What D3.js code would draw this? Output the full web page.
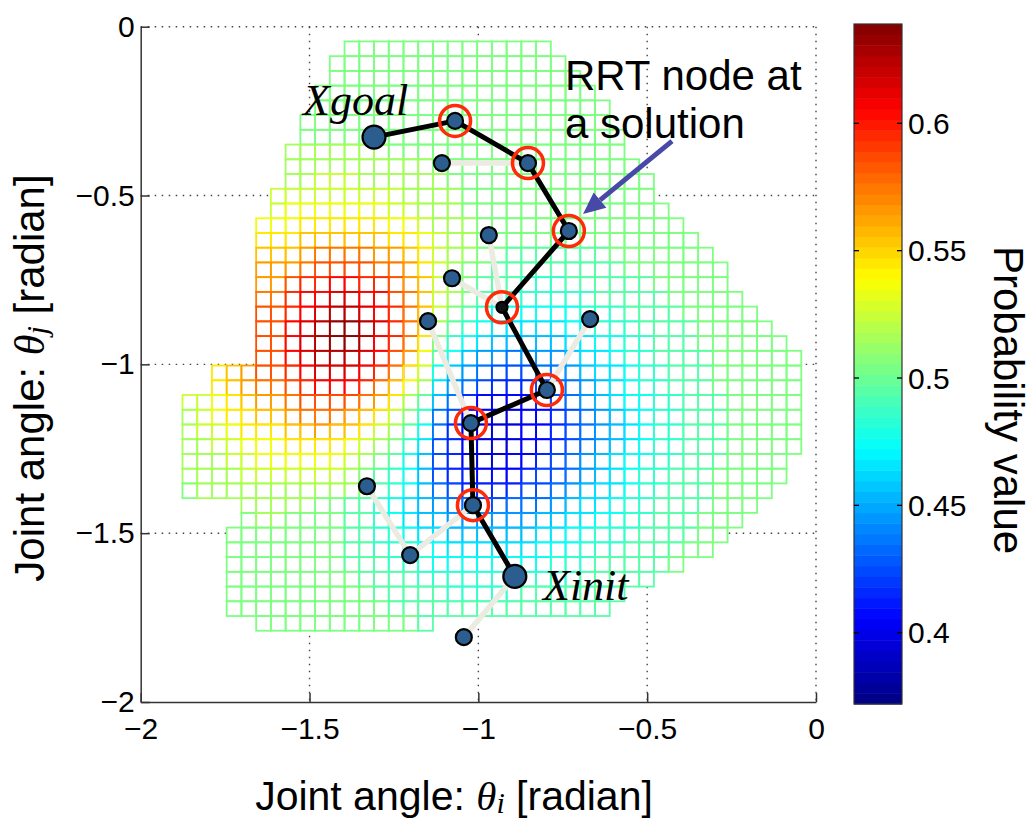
<!DOCTYPE html>
<html>
<head>
<meta charset="utf-8">
<script src="https://cdnjs.cloudflare.com/ajax/libs/d3/7.8.5/d3.min.js"></script>
<style>
body { margin: 0; background: #fff; }
svg { display: block; font-family: "Liberation Sans", Arial, sans-serif; }
.grid line { stroke: #444; stroke-width: 1.4; stroke-dasharray: 1.5,5.5; }
.axis path, .axis line { stroke: #333; stroke-width: 1.5; }
.axis text { font-size: 30px; fill: #000; font-family: "Liberation Sans", Arial, sans-serif; }
</style>
</head>
<body>
<div id="chart"></div>
<script>
// probability mesh, 2.5 deg cells (theta_i across, theta_j down)
var cellStep = 2.5;
var thetaIStart = -107.5;
var thetaJStart = -2.5;
var levelChars = "0123456789abcdefghijklmnopq";
var levelBase = 0.375, levelStep = 0.01;

// first / last column of each row that has a cell
var rowSpans = [
    [11,24],[10,25],[10,26],[9,27],[9,28],[8,28],[8,29],[7,29],[7,30],[7,31],
    [6,31],[6,32],[5,33],[5,34],[5,35],[5,36],[5,36],[5,37],[5,38],[5,39],
    [5,40],[5,41],[2,41],[2,41],[0,41],[0,41],[0,41],[0,41],[0,40],[0,40],
    [0,39],[4,38],[4,37],[3,36],[3,35],[3,33],[3,31],[3,29],[3,28],[5,16]
];

// cell levels, one char per column (rest of the row is 'd')
var probRows = [
    "d",
    "d",
    "d",
    "d",
    "d",
    "d",
    "d",
    "dddddddeeeeeee",
    "ddddeeeeeeeeeeeee",
    "dddeeeeeefffeeeeee",
    "deeeeefffffffffeeee",
    "eeeefffgggggggffeee",
    "eeeffggghhhhhhggfeee",
    "eeffghhhiiiiiihhgfee",
    "effghiiijkkkkjjihfeeddccccccc",
    "efghijjjkllllkkjhfeddccccccccc",
    "ffghijjlmmnnmmljifedcccbbbcccccc",
    "fghijkkmnnoonnlkifedcbbbbbbbccccc",
    "fghikllmnopponmkifdcbaaaaaabbbcccc",
    "fghjkllnopqqpomkiecba99999aabbbcccc",
    "fghjkllnopqqpnmkhdba98888899aabbccc",
    "fghikllnoppponljgca8776777899abbcccc",
    "fghijllmnooonmkhfa876555667899abbccc",
    "fghijkklmnnnmkige9765444566789abbccc",
    "ffghijjkllllkjhec8643333456789aabbccc",
    "efghhiijkkkjihfdb65332233456789abbccc",
    "effghhhiijiihfeca64322233456789abbccc",
    "eeffggghhhhgfedb954322233456789abbccc",
    "eeeffggggggfedca85432233456789aabbccc",
    "eeeefffffffedcba85443334556789abbccc",
    "deeeeeeeeeeedcba86544445567899abbccc",
    "dddeeeeeeddccba98766556667899abbcccc",
    "dddddeeddddccba9887777778899aabbccc",
    "dddddddddddccbba9988888899aabbbcccc",
    "dddddddddddccbbbaa999999aaabbbcccc",
    "dddddddddddcccbbbaaaaaaaabbbccccc",
    "ddddddddddddccccbbbbbbbbbbbccccc",
    "dddddddddddddcccccbbbbbccccccc",
    "ddddddddddddddccccccccccccccc",
    "ddddddddddddddddcccccccccc"
];

var axisTicks = [-2, -1.5, -1, -0.5, 0];
var gridTicks = [-1.5, -1, -0.5, 0];
var colorDomain = [0.372, 0.639];
var colorTicks = [0.4, 0.45, 0.5, 0.55, 0.6];
var jetStops = [0, 0.125, 0.375, 0.625, 0.875, 1];
var jetColors = ["#000080", "#0000ff", "#00ffff", "#ffff00", "#ff0000", "#800000"];

// RRT: solution path from Xgoal to Xinit, [theta_i, theta_j] in radian
var pathNodes = [
    [-1.309, -0.327], [-1.069, -0.279], [-0.853, -0.404], [-0.732, -0.605],
    [-0.930, -0.831], [-0.797, -1.076], [-1.022, -1.174], [-1.016, -1.417],
    [-0.892, -1.628]
];
var sideNodes = [
    [-1.108, -0.404], [-0.969, -0.617], [-1.078, -0.745], [-1.149, -0.872],
    [-0.669, -0.866], [-1.330, -1.361], [-1.202, -1.565], [-1.043, -1.808]
];
// tree edges not on the solution (side node -> neighbour)
var treeEdges = [
    [[-1.108, -0.404], [-0.853, -0.404]],
    [[-0.969, -0.617], [-0.930, -0.831]],
    [[-1.078, -0.745], [-0.930, -0.831]],
    [[-1.149, -0.872], [-1.022, -1.174]],
    [[-0.669, -0.866], [-0.797, -1.076]],
    [[-1.330, -1.361], [-1.202, -1.565]],
    [[-1.202, -1.565], [-1.016, -1.417]],
    [[-1.043, -1.808], [-0.892, -1.628]]
];

var svg = d3.select("#chart").append("svg")
    .attr("width", 1035)
    .attr("height", 823);

var x = d3.scaleLinear().domain([-2, 0]).range([140.7, 816]);
var y = d3.scaleLinear().domain([0, -2]).range([26.7, 702]);
var rad = function(deg){ return deg * Math.PI / 180; };

var jet = d3.scaleLinear()
    .domain(jetStops.map(function(t){ return colorDomain[0] + t * (colorDomain[1] - colorDomain[0]); }))
    .range(jetColors);

// dotted grid
var grid = svg.append("g").attr("class", "grid");
gridTicks.forEach(function(v){
    grid.append("line").attr("x1", x(v)).attr("x2", x(v)).attr("y1", y(0)).attr("y2", y(-2));
    grid.append("line").attr("x1", x(-2)).attr("x2", x(0)).attr("y1", y(v)).attr("y2", y(v));
});

// mesh cells
var cells = [];
probRows.forEach(function(row, i){
    var s = row.padEnd(42, "d");
    for (var j = rowSpans[i][0]; j <= rowSpans[i][1]; j++){
        cells.push({i: i, j: j, v: levelBase + levelStep * levelChars.indexOf(s[j])});
    }
});

function cx0(d){ return x(rad(thetaIStart + cellStep * d.j)); }
function cx1(d){ return x(rad(thetaIStart + cellStep * (d.j + 1))); }
function cy0(d){ return y(rad(thetaJStart - cellStep * d.i)); }
function cy1(d){ return y(rad(thetaJStart - cellStep * (d.i + 1))); }

var mesh = svg.append("g").attr("class", "mesh");
mesh.selectAll(".face").data(cells).enter().append("rect")
    .attr("class", "face")
    .attr("x", cx0).attr("y", cy0)
    .attr("width", function(d){ return cx1(d) - cx0(d); })
    .attr("height", function(d){ return cy1(d) - cy0(d); })
    .attr("fill", "#fff");
mesh.selectAll(".edge").data(cells).enter().append("rect")
    .attr("class", "edge")
    .attr("x", cx0).attr("y", cy0)
    .attr("width", function(d){ return cx1(d) - cx0(d); })
    .attr("height", function(d){ return cy1(d) - cy0(d); })
    .attr("fill", "none")
    .attr("stroke", function(d){ return jet(d.v); })
    .attr("stroke-width", 1.8);

// axes
svg.append("g")
    .attr("class", "axis x")
    .attr("transform", "translate(0," + y(-2) + ")")
    .call(d3.axisBottom(x).tickValues(axisTicks).tickSizeInner(-9).tickSizeOuter(0)
        .tickPadding(16).tickFormat(d3.format("~g")));

svg.append("g")
    .attr("class", "axis y")
    .attr("transform", "translate(" + x(-2) + ",0)")
    .call(d3.axisLeft(y).tickValues(axisTicks).tickSizeInner(-9).tickSizeOuter(0)
        .tickPadding(6).tickFormat(d3.format("~g")));

// tree
var tree = svg.append("g").attr("class", "tree");
tree.selectAll(".branch").data(treeEdges).enter().append("line")
    .attr("x1", function(d){ return x(d[0][0]); })
    .attr("y1", function(d){ return y(d[0][1]); })
    .attr("x2", function(d){ return x(d[1][0]); })
    .attr("y2", function(d){ return y(d[1][1]); })
    .attr("stroke", "#ebebe2")
    .attr("stroke-width", 5.5)
    .attr("stroke-linecap", "round");

tree.append("path")
    .attr("d", d3.line().x(function(d){ return x(d[0]); }).y(function(d){ return y(d[1]); })(pathNodes))
    .attr("fill", "none")
    .attr("stroke", "#000")
    .attr("stroke-width", 5)
    .attr("stroke-linejoin", "round");

var inner = pathNodes.slice(1, pathNodes.length - 1);
tree.selectAll(".ring").data(inner).enter().append("circle")
    .attr("cx", function(d){ return x(d[0]); })
    .attr("cy", function(d){ return y(d[1]); })
    .attr("r", 15.5)
    .attr("fill", "none")
    .attr("stroke", "#ff2a0a")
    .attr("stroke-width", 3.5);

tree.selectAll(".node").data(sideNodes.concat(inner)).enter().append("circle")
    .attr("cx", function(d){ return x(d[0]); })
    .attr("cy", function(d){ return y(d[1]); })
    .attr("r", function(d, i){ return i === sideNodes.length + 3 ? 5.5 : 8; })
    .attr("fill", function(d, i){ return i === sideNodes.length + 3 ? "#111" : "#2c5d8f"; })
    .attr("stroke", "#000")
    .attr("stroke-width", 2.2);

tree.selectAll(".end").data([pathNodes[0], pathNodes[pathNodes.length - 1]]).enter().append("circle")
    .attr("cx", function(d){ return x(d[0]); })
    .attr("cy", function(d){ return y(d[1]); })
    .attr("r", 11.5)
    .attr("fill", "#2c5d8f")
    .attr("stroke", "#000")
    .attr("stroke-width", 2.2);

// annotations
var serif = "'Liberation Serif', 'Times New Roman', serif";
svg.append("text").attr("x", x(-1.519)).attr("y", y(-0.262))
    .style("font-family", serif).style("font-style", "italic").style("font-size", "44px")
    .text("Xgoal");
svg.append("text").attr("x", x(-0.8085)).attr("y", y(-1.699))
    .style("font-family", serif).style("font-style", "italic").style("font-size", "44px")
    .text("Xinit");
svg.append("text").attr("x", x(-0.7435)).attr("y", y(-0.1876))
    .style("font-size", "42px").text("RRT node at");
svg.append("text").attr("x", x(-0.7435)).attr("y", y(-0.3298))
    .style("font-size", "42px").text("a solution");

var a0 = [x(-0.4265), y(-0.3387)], a1 = [x(-0.690), y(-0.555)];
var ang = Math.atan2(a1[1] - a0[1], a1[0] - a0[0]);
var headLen = 22, headW = 10;
var hb = [a1[0] - headLen * Math.cos(ang), a1[1] - headLen * Math.sin(ang)];
svg.append("line")
    .attr("x1", a0[0]).attr("y1", a0[1]).attr("x2", hb[0]).attr("y2", hb[1])
    .attr("stroke", "#4848a8").attr("stroke-width", 5);
svg.append("path")
    .attr("d", "M" + a1[0] + "," + a1[1] +
        "L" + (hb[0] + headW * Math.sin(ang)) + "," + (hb[1] - headW * Math.cos(ang)) +
        "L" + (hb[0] - headW * Math.sin(ang)) + "," + (hb[1] + headW * Math.cos(ang)) + "Z")
    .attr("fill", "#4848a8");

// axis labels
var xl = svg.append("text").attr("x", 454).attr("y", 810)
    .attr("text-anchor", "middle").style("font-size", "41px");
xl.append("tspan").text("Joint angle: ");
xl.append("tspan").style("font-family", serif).style("font-style", "italic").text("θ");
xl.append("tspan").style("font-family", serif).style("font-style", "italic").style("font-size", "30px").attr("dy", 3).text("i");
xl.append("tspan").attr("dy", -3).text(" [radian]");

var yl = svg.append("text").attr("transform", "translate(44,378) rotate(-90)")
    .attr("text-anchor", "middle").style("font-size", "42px");
yl.append("tspan").text("Joint angle: ");
yl.append("tspan").style("font-family", serif).style("font-style", "italic").text("θ");
yl.append("tspan").style("font-family", serif).style("font-style", "italic").style("font-size", "30px").attr("dy", 3).text("j");
yl.append("tspan").attr("dy", -3).text(" [radian]");

// colorbar
var cbX0 = 854, cbX1 = 902;
var cy = d3.scaleLinear().domain(colorDomain).range([704, 24]);
var nBands = 64;
var bands = d3.range(nBands).map(function(k){
    var lo = colorDomain[0] + (colorDomain[1] - colorDomain[0]) * k / nBands;
    var hi = colorDomain[0] + (colorDomain[1] - colorDomain[0]) * (k + 1) / nBands;
    return {lo: lo, hi: hi};
});
var cbar = svg.append("g").attr("class", "colorbar");
cbar.selectAll("rect").data(bands).enter().append("rect")
    .attr("x", cbX0).attr("width", cbX1 - cbX0)
    .attr("y", function(d){ return cy(d.hi); })
    .attr("height", function(d){ return cy(d.lo) - cy(d.hi) + 0.5; })
    .attr("fill", function(d){ return jet((d.lo + d.hi) / 2); });
cbar.append("rect")
    .attr("x", cbX0).attr("y", cy(colorDomain[1]))
    .attr("width", cbX1 - cbX0).attr("height", cy(colorDomain[0]) - cy(colorDomain[1]))
    .attr("fill", "none").attr("stroke", "#333").attr("stroke-width", 1.2);
colorTicks.forEach(function(t){
    cbar.append("line").attr("x1", cbX0).attr("x2", cbX0 + 5).attr("y1", cy(t)).attr("y2", cy(t))
        .attr("stroke", "#000").attr("stroke-width", 1.3);
    cbar.append("line").attr("x1", cbX1 - 5).attr("x2", cbX1).attr("y1", cy(t)).attr("y2", cy(t))
        .attr("stroke", "#000").attr("stroke-width", 1.3);
    cbar.append("text").attr("x", cbX1 + 6).attr("y", cy(t)).attr("dy", "0.35em")
        .style("font-size", "30px").text(d3.format("~g")(t));
});
svg.append("text").attr("transform", "translate(994,400) rotate(90)")
    .attr("text-anchor", "middle").style("font-size", "42px").text("Probability value");
</script>
</body>
</html>
